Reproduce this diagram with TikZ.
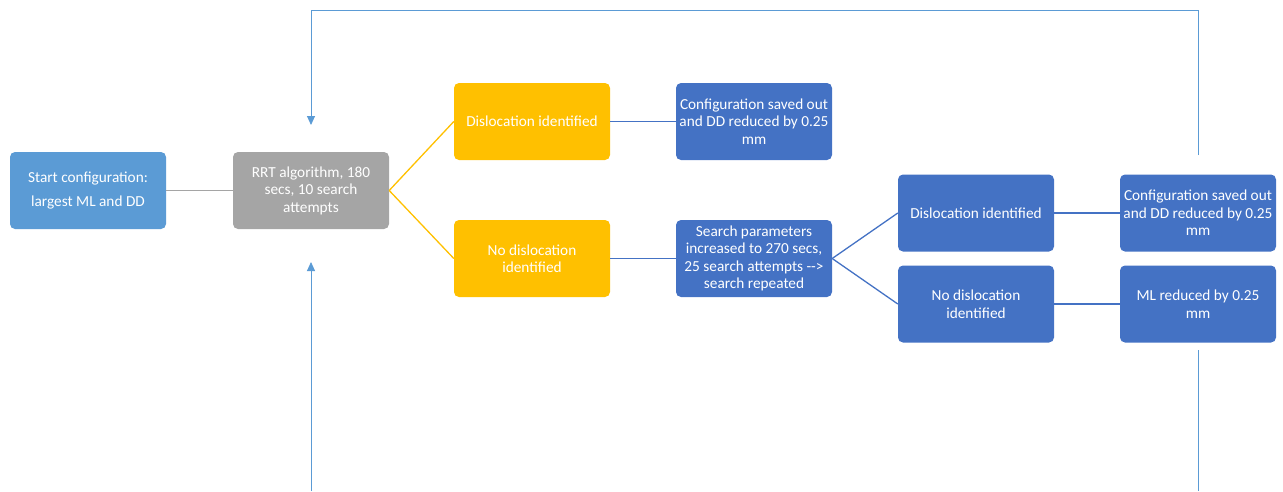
\documentclass[tikz,border=0pt]{standalone}
\usepackage{fontspec}
\setmainfont{Carlito}
\usetikzlibrary{arrows.meta}
\definecolor{startblue}{HTML}{5B9BD5}
\definecolor{boxgray}{HTML}{A5A5A5}
\definecolor{boxgold}{HTML}{FFC000}
\definecolor{boxblue}{HTML}{4472C4}

\begin{document}
\begin{tikzpicture}[x=1pt,y=-1pt]
\tikzset{boite/.style={rounded corners=5pt, minimum width=156pt, minimum height=77pt, text=white, align=center, font=\fontsize{15.3}{17.5}\selectfont, inner sep=1pt}}
\tikzset{lien/.style={line width=1.3pt}}
\tikzset{retour/.style={line width=0.9pt, draw=startblue}}
\useasboundingbox (0,0) rectangle (1283,491);
\node[boite, fill=startblue] (start) at (88,190.5) {Start configuration:\\[6pt]largest ML and DD};
\node[boite, fill=boxgray] (rrt) at (311,190.5) {RRT algorithm, 180\\secs, 10 search\\attempts};
\node[boite, fill=boxgold] (dis1) at (532,121.5) {Dislocation identified};
\node[boite, fill=boxgold] (nodis1) at (532,258.5) {No dislocation\\identified};
\node[boite, fill=boxblue] (saved1) at (754,121.5) {Configuration saved out\\and DD reduced by 0.25\\mm};
\node[boite, fill=boxblue] (search) at (754,258.5) {Search parameters\\increased to 270 secs,\\25 search attempts -{}->\\search repeated};
\node[boite, fill=boxblue] (dis2) at (976,213) {Dislocation identified};
\node[boite, fill=boxblue] (saved2) at (1198,213) {Configuration saved out\\and DD reduced by 0.25\\mm};
\node[boite, fill=boxblue] (nodis2) at (976,304) {No dislocation\\identified};
\node[boite, fill=boxblue] (mlred) at (1198,304) {ML reduced by 0.25\\mm};
\draw[lien, boxgray] (start) -- (rrt);
\draw[lien, boxgold] (rrt.east) -- (dis1.west);
\draw[lien, boxgold] (rrt.east) -- (nodis1.west);
\draw[lien, boxblue] (dis1) -- (saved1);
\draw[lien, boxblue] (nodis1) -- (search);
\draw[lien, boxblue] (search.east) -- (dis2.west);
\draw[lien, boxblue] (search.east) -- (nodis2.west);
\draw[lien, boxblue] (dis2) -- (saved2);
\draw[lien, boxblue] (nodis2) -- (mlred);
% loop back from the right column
\coordinate (hautD) at (1198,155);
\coordinate (hautG) at (311,125);
\coordinate (basD) at (1198,350);
\coordinate (basDfin) at (1198,491);
\coordinate (basG) at (311,491);
\coordinate (basGfin) at (311,262);
\draw[retour, -{Triangle[length=9pt,width=8pt]}] (hautD) -- (1198,10) -| (hautG);
\draw[retour] (basD) -- (basDfin);
\draw[retour, -{Triangle[length=9pt,width=8pt]}] (basG) -- (basGfin);
\end{tikzpicture}
\end{document}
